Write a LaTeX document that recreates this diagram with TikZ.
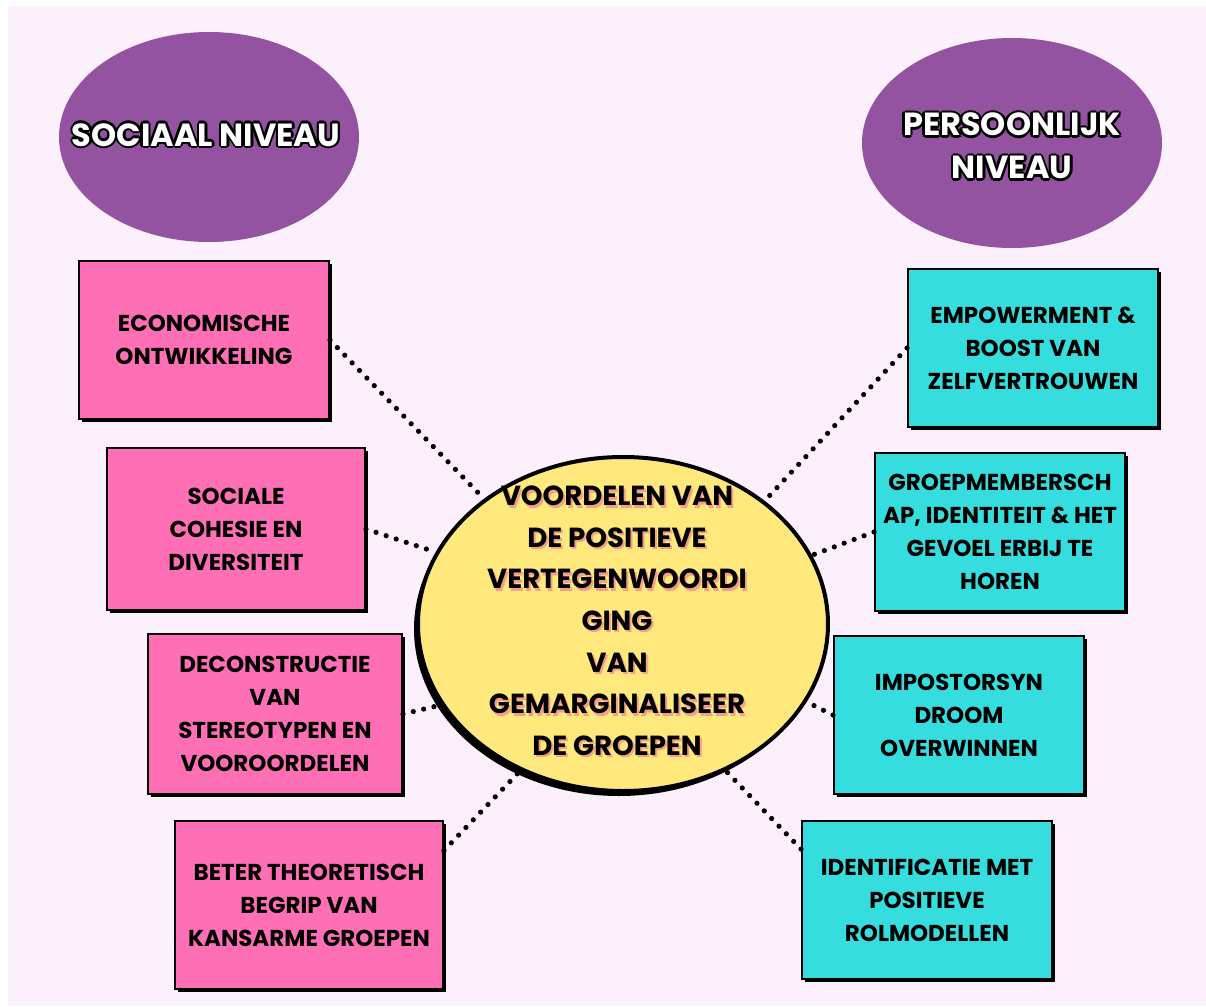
\documentclass[tikz,border=0pt]{standalone}
\usepackage{fontspec}
\setmainfont{Poppins}
\usetikzlibrary{shapes.geometric, shadows}
\definecolor{achtergrond}{HTML}{FCF0FC}
\definecolor{paars}{HTML}{9353A0}
\definecolor{roze}{HTML}{FF6FB5}
\definecolor{turkoois}{HTML}{35DDDF}
\definecolor{geel}{HTML}{FFE97D}
\definecolor{zalm}{HTML}{F4A088}

% tekst met omlijning en met schaduw
\newcommand{\olay}[3]{\rlap{\hspace*{#1}\raisebox{#2}{#3}}}
\newcommand{\omlijn}[1]{{\color{black}\olay{-1.2pt}{0pt}{#1}\olay{1.2pt}{0pt}{#1}\olay{0pt}{1.2pt}{#1}\olay{0pt}{-1.2pt}{#1}%
  \olay{-.85pt}{.85pt}{#1}\olay{.85pt}{.85pt}{#1}\olay{-.85pt}{-.85pt}{#1}\olay{.85pt}{-.85pt}{#1}}#1}
\newcommand{\schaduw}[1]{{\color{zalm}\olay{1pt}{-1.2pt}{#1}}#1}

\tikzset{
  x=0.5pt, y=-0.5pt,
  every node/.style={align=center},
  niveau/.style={ellipse, fill=paars, minimum width=150pt, minimum height=105pt},
  titel/.style={text=white, font=\bfseries\fontsize{16}{21.5}\selectfont},
  blok/.style={rectangle, draw=black, line width=1pt, minimum width=125pt, minimum height=79pt,
    drop shadow={shadow xshift=1.5pt, shadow yshift=-1.5pt, fill=black, opacity=1},
    font=\bfseries\fontsize{11.5}{16.5}\selectfont},
  sociaal/.style={blok, fill=roze},
  persoonlijk/.style={blok, fill=turkoois},
  kernbol/.style={ellipse, fill=geel, draw=black, line width=2pt, minimum width=205pt, minimum height=167pt,
    drop shadow={shadow xshift=-2pt, shadow yshift=-2.5pt, fill=black, opacity=1}},
  kerntekst/.style={font=\bfseries\fontsize{13.8}{20.8}\selectfont},
  stip/.style={line width=2.6pt, dash pattern=on 0pt off 5.3pt, line cap=round},
}

\begin{document}
\begin{tikzpicture}
  \fill[white] (0,0) rectangle (1206,1007);
  \useasboundingbox (0,0) rectangle (1206,1007);
  \fill[achtergrond] (8,6) rectangle (1206,1005);

  \node[niveau] (soc) at (209,137) {};
  \node[titel] (soctekst) at (206,135) {\omlijn{SOCIAAL NIVEAU}};
  \node[niveau] (pers) at (1012,143) {};
  \node[titel] (perstekst) at (1012,146) {\omlijn{PERSOONLIJK}\\\omlijn{NIVEAU}};

  \node[kernbol] (mid) at (623,624) {};
  \node[kerntekst] (midtekst) at (617,622) {\schaduw{VOORDELEN VAN}\\\schaduw{DE POSITIEVE}\\\schaduw{VERTEGENWOORDI}\\
    \schaduw{GING}\\\schaduw{VAN}\\\schaduw{GEMARGINALISEER}\\\schaduw{DE GROEPEN}};

  \node[sociaal] (l1) at (204,340) {ECONOMISCHE\\ONTWIKKELING};
  \node[sociaal, minimum width=129pt, minimum height=81pt] (l2) at (236,529) {SOCIALE\\COHESIE EN\\DIVERSITEIT};
  \node[sociaal, minimum width=127pt, minimum height=80pt] (l3) at (275,714) {DECONSTRUCTIE\\VAN\\STEREOTYPEN EN\\VOOROORDELEN};
  \node[sociaal, minimum width=134pt, minimum height=84pt] (l4) at (309,905) {BETER THEORETISCH\\BEGRIP VAN\\KANSARME GROEPEN};

  \node[persoonlijk] (r1) at (1033,348) {EMPOWERMENT \&\\BOOST VAN\\ZELFVERTROUWEN};
  \node[persoonlijk] (r2) at (1000,532) {GROEPMEMBERSCH\\AP, IDENTITEIT \& HET\\GEVOEL ERBIJ TE\\HOREN};
  \node[persoonlijk] (r3) at (959,715) {IMPOSTORSYN\\DROOM\\OVERWINNEN};
  \node[persoonlijk] (r4) at (927,900) {IDENTIFICATIE MET\\POSITIEVE\\ROLMODELLEN};

  \path (l1.east) edge[stip] (mid.138)
        (l2.east) edge[stip] (mid.159)
        (l3.east) edge[stip] (mid.204)
        (l4.22)   edge[stip] (mid.235)
        (r1.west) edge[stip] (mid.41)
        (r2.west) edge[stip] (mid.20)
        (r3.west) edge[stip] (mid.337)
        (r4.158)  edge[stip] (mid.305);
\end{tikzpicture}
\end{document}
